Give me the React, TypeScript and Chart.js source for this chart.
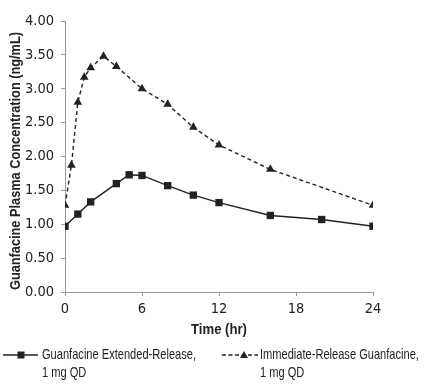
import React, { useEffect, useRef } from 'react';
import { Chart, registerables } from 'chart.js';

Chart.register(...registerables);

const timeER = [0, 1, 2, 4, 5, 6, 8, 10, 12, 16, 20, 24];
const concER = [0.97, 1.15, 1.33, 1.6, 1.73, 1.72, 1.57, 1.43, 1.32, 1.13, 1.07, 0.97];
const timeIR = [0, 0.5, 1, 1.5, 2, 3, 4, 6, 8, 10, 12, 16, 24];
const concIR = [1.28, 1.87, 2.8, 3.17, 3.31, 3.48, 3.33, 3.0, 2.77, 2.43, 2.17, 1.81, 1.28];
const xTicks = [0, 6, 12, 18, 24];
const yTicks = [0, 0.5, 1, 1.5, 2, 2.5, 3, 3.5, 4];
const seriesNames = ['Guanfacine Extended-Release,', 'Immediate-Release Guanfacine,'];
const seriesDose = ['1 mg QD', '1 mg QD'];
const xTitle = 'Time (hr)';
const yTitle = 'Guanfacine Plasma Concentration (ng/mL)';

const TICK_FONT = '"DejaVu Sans Condensed", "Liberation Sans", sans-serif';
const TEXT_FONT = '"Liberation Sans", Arial, sans-serif';
const INK = '#222';
const AXIS = '#9a9a9a';

// draw text squeezed horizontally to a given width (condensed look)
function squeezed(ctx: any, text: string, x: number, y: number, sx: number, align: 'left' | 'center') {
  const w = ctx.measureText(text).width * sx;
  ctx.save();
  ctx.translate(align === 'center' ? x - w / 2 : x, y);
  ctx.scale(sx, 1);
  ctx.textAlign = 'left';
  ctx.fillText(text, 0, 0);
  ctx.restore();
}

const overlay = {
  id: 'overlay',
  afterDraw(chart: any) {
    const ctx = chart.ctx;
    const area = chart.chartArea;
    ctx.save();
    ctx.fillStyle = INK;
    ctx.textBaseline = 'middle';
    // y title
    ctx.font = `bold 14.5px ${TEXT_FONT}`;
    const yw = ctx.measureText(yTitle).width;
    ctx.save();
    ctx.translate(15.5, 161);
    ctx.rotate(-Math.PI / 2);
    squeezed(ctx, yTitle, 0, 0, 258 / yw, 'center');
    ctx.restore();
    // x title
    const xw = ctx.measureText(xTitle).width;
    squeezed(ctx, xTitle, (area.left + area.right) / 2, 330, 56 / xw, 'center');

    // legend
    ctx.font = `14.5px ${TEXT_FONT}`;
    const sx = 154 / ctx.measureText(seriesNames[0]).width;
    const items = [
      { x0: 3, x1: 38, mx: 21, text: 42, dash: [] as number[], style: 'rect' },
      { x0: 222, x1: 258, mx: 244, text: 260, dash: [4, 2.5], style: 'triangle' },
    ];
    items.forEach((it, i) => {
      const y = 355;
      ctx.strokeStyle = INK;
      ctx.lineWidth = 1.3;
      ctx.setLineDash(it.dash);
      ctx.beginPath();
      ctx.moveTo(it.x0, y);
      ctx.lineTo(it.x1, y);
      ctx.stroke();
      ctx.setLineDash([]);
      ctx.fillStyle = INK;
      ctx.beginPath();
      if (it.style === 'rect') {
        ctx.rect(it.mx - 3.5, y - 3.5, 7, 7);
      } else {
        ctx.moveTo(it.mx, y - 4);
        ctx.lineTo(it.mx + 4, y + 3);
        ctx.lineTo(it.mx - 4, y + 3);
        ctx.closePath();
      }
      ctx.fill();
      squeezed(ctx, seriesNames[i], it.text, 355, sx, 'left');
      squeezed(ctx, seriesDose[i], it.text, 373, sx, 'left');
    });
    ctx.restore();
  },
};

export default function App() {
  const ref = useRef<HTMLCanvasElement>(null);
  useEffect(() => {
    document.body.style.margin = '0';
    const chart = new Chart(ref.current as HTMLCanvasElement, {
      type: 'line',
      data: {
        datasets: [
          {
            label: seriesNames[0],
            data: timeER.map((t, i) => ({ x: t, y: concER[i] })),
            borderColor: INK,
            backgroundColor: INK,
            borderWidth: 1.4,
            pointStyle: 'rect',
            pointRadius: 5.2,
            pointBorderWidth: 0,
            tension: 0,
          },
          {
            label: seriesNames[1],
            data: timeIR.map((t, i) => ({ x: t, y: concIR[i] })),
            borderColor: INK,
            backgroundColor: INK,
            borderWidth: 1.4,
            borderDash: [4, 3],
            pointStyle: 'triangle',
            pointRadius: 5,
            pointBorderWidth: 0,
            tension: 0,
          },
        ],
      },
      options: {
        responsive: false,
        animation: false,
        layout: { padding: { left: 0, top: 21, right: 64, bottom: 0 } },
        plugins: { legend: { display: false }, tooltip: { enabled: false } },
        scales: {
          x: {
            type: 'linear',
            min: 0,
            max: 24,
            afterBuildTicks: (s: any) => {
              s.ticks = xTicks.map((v) => ({ value: v }));
            },
            afterFit: (s: any) => {
              s.height = 94;
            },
            border: { color: AXIS, width: 1 },
            grid: { drawOnChartArea: false, color: AXIS, tickLength: 4 },
            ticks: { color: INK, font: { family: TICK_FONT, size: 14.5 }, padding: 5, maxRotation: 0 },
          },
          y: {
            min: 0,
            max: 4,
            afterBuildTicks: (s: any) => {
              s.ticks = yTicks.map((v) => ({ value: v }));
            },
            afterFit: (s: any) => {
              s.width = 65;
            },
            border: { color: AXIS, width: 1 },
            grid: { drawOnChartArea: false, color: AXIS, tickLength: 4 },
            ticks: {
              color: INK,
              font: { family: TICK_FONT, size: 14.5 },
              padding: 7,
              callback: (v: any) => Number(v).toFixed(2),
            },
          },
        },
      },
      plugins: [overlay],
    } as any);
    return () => chart.destroy();
  }, []);
  return <canvas ref={ref} width={437} height={386} style={{ display: 'block' }} />;
}
